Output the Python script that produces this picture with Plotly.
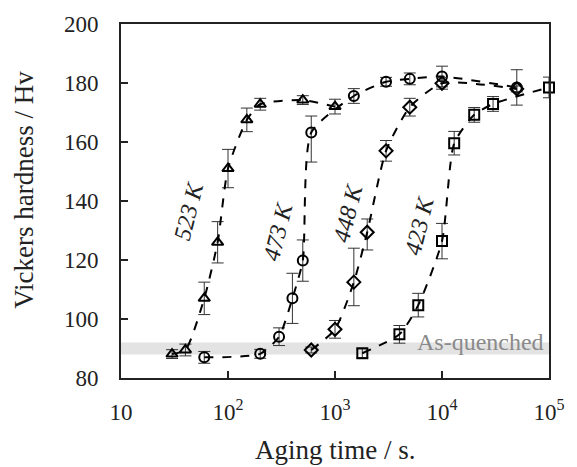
import plotly.graph_objects as go

# ---- data ----
t523 = [30, 40, 60, 80, 100, 150, 200, 500, 1000]
h523 = [88.1, 89.5, 107, 126, 151, 167.5, 172.8, 174.2, 172]
e523 = [1.5, 2, 5.5, 7, 6.5, 4, 2, 1.5, 2.5]

t473 = [60, 200, 300, 400, 500, 600, 1500, 3000, 5000, 10000, 50000]
h473 = [87, 88.2, 94, 107, 119.8, 163.2, 175.6, 180.4, 181.4, 182.2, 178.5]
e473p = [2, 1.5, 3, 8.5, 7, 5.6, 2.5, 1.5, 2, 3.5, 6]
e473m = [2, 1.5, 3, 8.5, 7, 10, 2.5, 1.5, 2, 3.5, 6]

t448 = [600, 1000, 1500, 2000, 3000, 5000, 10000, 50000]
h448 = [89.5, 96.5, 112.5, 129.4, 157, 171.8, 179.9, 178]
e448p = [1, 3, 11.5, 4.5, 3.5, 3, 2, 1]
e448m = [1, 3, 8, 6, 3.5, 3, 2, 1]

t423 = [1800, 4000, 6000, 10000, 13000, 20000, 30000, 100000]
h423 = [88.4, 94.8, 104.7, 126.4, 159.6, 169.2, 172.9, 178.5]
e423 = [1.5, 3, 4, 6, 4, 2.5, 2.5, 3.5]

quench_lo, quench_hi = 88, 92
yticks = [80, 100, 120, 140, 160, 180, 200]
xtickvals = [10, 100, 1000, 10000, 100000]
xticktext = ["10", "10<sup>2</sup>", "10<sup>3</sup>", "10<sup>4</sup>", "10<sup>5</sup>"]

labels = ["523 K", "473 K", "448 K", "423 K"]
label_pos = [(1.633, 136.6), (2.468, 129.8), (3.119, 136.0), (3.789, 131.9)]

FONT = "Times New Roman"

fig = go.Figure()

def add_series(t, h, ep, em, symbol):
    fig.add_trace(go.Scatter(
        x=t, y=h, mode="lines+markers",
        line=dict(color="black", width=2, dash="dash", shape="spline", smoothing=0.6),
        marker=dict(symbol=symbol, size=10, color="black", line=dict(width=2, color="black")),
        error_y=dict(type="data", array=ep, arrayminus=em, visible=True,
                     color="#333", thickness=1, width=6),
        showlegend=False, cliponaxis=False,
    ))

add_series(t523, h523, e523, e523, "triangle-up-open")
add_series(t473, h473, e473p, e473m, "circle-open")
add_series(t448, h448, e448p, e448m, "diamond-open")
add_series(t423, h423, e423, e423, "square-open")

fig.add_shape(type="rect", xref="paper", yref="y", x0=0, x1=1,
              y0=quench_lo, y1=quench_hi, fillcolor="#e3e3e3",
              line=dict(width=0), layer="below")

ann = []
ann.append(dict(x=0.993, xref="paper", y=92.3, yref="y", text="As-quenched",
                showarrow=False, xanchor="right", yanchor="middle",
                font=dict(family=FONT, size=24, color="#8a8a8a")))
for lab, (lx, ly) in zip(labels, label_pos):
    ann.append(dict(x=lx, y=ly, xref="x", yref="y", text="<i>" + lab + "</i>",
                    showarrow=False, textangle=-76,
                    font=dict(family=FONT, size=24, color="#222")))
ann.append(dict(x=0.5, xref="paper", y=-0.203, yref="paper", yanchor="middle",
                xanchor="center", text="Aging time / s.", showarrow=False,
                font=dict(family=FONT, size=27, color="#222")))
ann.append(dict(x=-0.227, xref="paper", y=0.531, yref="paper", textangle=-90,
                xanchor="center", yanchor="middle",
                text="Vickers hardness / Hv", showarrow=False,
                font=dict(family=FONT, size=27, color="#222")))

fig.update_layout(
    width=577, height=467,
    margin=dict(l=121, r=20, t=24, b=89),
    paper_bgcolor="white", plot_bgcolor="white",
    font=dict(family=FONT, size=23, color="#222"),
    annotations=ann,
    xaxis=dict(type="log", range=[1, 5], tickvals=xtickvals, ticktext=xticktext,
               ticks="inside", ticklen=7, tickwidth=2, tickcolor="#222",
               showline=True, linewidth=2, linecolor="#222", mirror=True,
               showgrid=False, zeroline=False, ticklabelstandoff=12,
               tickfont=dict(family=FONT, size=23, color="#222")),
    yaxis=dict(range=[80, 200], tickvals=yticks,
               ticks="inside", ticklen=7, tickwidth=2, tickcolor="#222",
               showline=True, linewidth=2, linecolor="#222", mirror=True,
               showgrid=False, zeroline=False, ticklabelstandoff=16,
               tickfont=dict(family=FONT, size=23, color="#222")),
)

fig.write_html("out.html")
